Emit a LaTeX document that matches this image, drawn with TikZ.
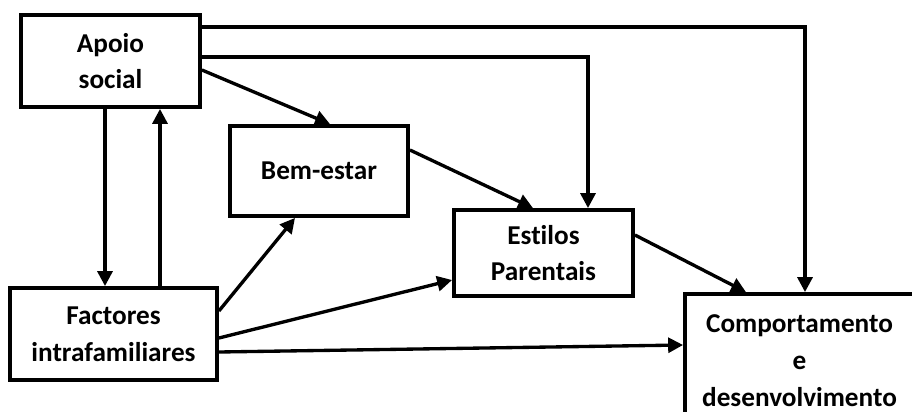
\documentclass[tikz,border=0pt]{standalone}
\usepackage{fontspec}
\setmainfont{Carlito}[Ligatures=NoCommon]
\usetikzlibrary{arrows.meta}

\begin{document}
\begin{tikzpicture}[x=0.02cm, y=-0.02cm,
        caixa/.style={draw, line width=2.2pt, align=center, inner sep=0pt,
            font=\fontsize{15.5}{21}\selectfont\bfseries},
        seta/.style={-{Triangle[length=8.5pt, width=8.5pt]}, line width=1.9pt}]
        \useasboundingbox (0,0) rectangle (912,412);

        \node[caixa, minimum width=3.58cm, minimum height=1.84cm] at (110.5,61)  (apoio) {Apoio\\social};
        \node[caixa, minimum width=3.56cm, minimum height=1.8cm]  at (319,171)   (bem)   {Bem-estar};
        \node[caixa, minimum width=4.14cm, minimum height=1.84cm] at (113.5,334) (fact)  {Factores\\intrafamiliares};
        \node[caixa, minimum width=3.58cm, minimum height=1.72cm] at (543.5,253) (est)   {Estilos\\Parentais};
        \node[caixa, minimum width=4.58cm, minimum height=2.68cm] at (799.5,361) (comp)  {Comportamento\\e\\desenvolvimento};

        \draw[seta] (apoio.east |- 0,27) -| (comp.north -| 805,0);
        \draw[seta] (apoio.east |- 0,57) -| (est.north -| 588,0);
        \draw[seta] (apoio.east |- 0,70) -- (bem.north -| 330,0);
        \draw[seta] (apoio.south -| 105,0) -- (fact.north -| 105,0);
        \draw[seta] (fact.north -| 160,0) -- (apoio.south -| 160,0);
        \draw[seta] (bem.east |- 0,150) -- (est.north -| 533,0);
        \draw[seta] (fact.east |- 0,311) -- (bem.south -| 295,0);
        \draw[seta] (fact.east |- 0,338) -- (est.west |- 0,280);
        \draw[seta] (fact.east |- 0,352) -- (comp.west |- 0,345);
        \draw[seta] (est.east |- 0,235) -- (comp.north -| 746,0);
\end{tikzpicture}
\end{document}
